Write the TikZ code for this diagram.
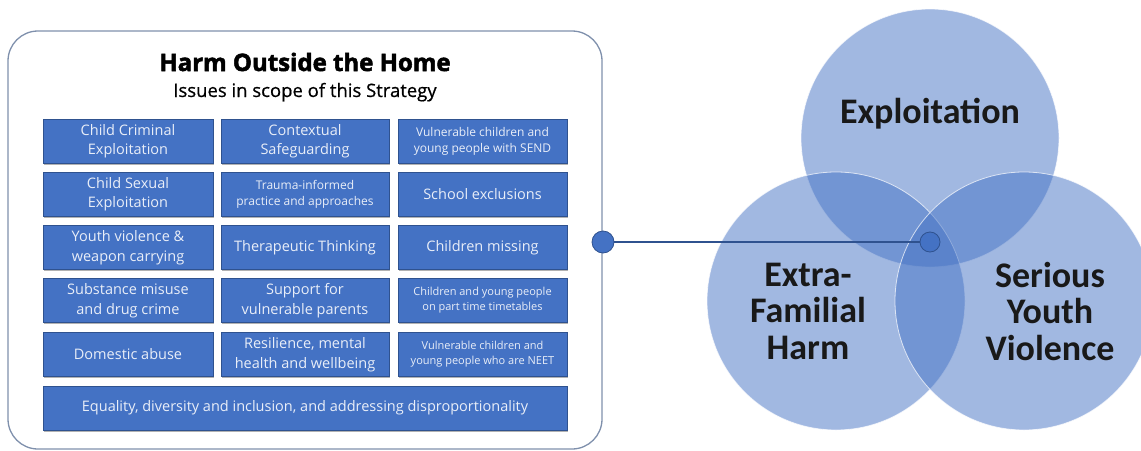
\documentclass[tikz,border=0pt]{standalone}
\usepackage{fontspec}
\setmainfont{Open Sans}
\newfontfamily\titlefont[BoldFeatures={FakeBold=2.2}]{Open Sans}
\newfontfamily\subfont[FakeBold=0.7]{Open Sans}
\newfontfamily\vennfont{Carlito}
\usetikzlibrary{shadows}
\definecolor{boxblue}{HTML}{4472C4}
\definecolor{boxedge}{HTML}{2F528F}
\definecolor{panelline}{HTML}{7F90AC}
\definecolor{boxtext}{HTML}{E9EEF8}
\definecolor{linkblue}{HTML}{2F528F}
\tikzset{
  issue/.style={draw=boxedge, line width=0.6pt, fill=boxblue, minimum height=44pt,
    inner sep=0pt, text=boxtext, align=center,
    font=\fontsize{14.5}{19.5}\selectfont,
    drop shadow={shadow xshift=1.2pt, shadow yshift=-1.8pt, opacity=0.3, fill=black}},
  wa/.style={issue, minimum width=170pt},
  wb/.style={issue, minimum width=168pt},
  wc/.style={issue, minimum width=169pt},
  smalltxt/.style={font=\fontsize{12}{16}\selectfont},
  tinytxt/.style={font=\fontsize{11}{15}\selectfont},
  venn/.style={circle, minimum size=258pt, inner sep=0pt, fill=boxblue, fill opacity=0.5,
    draw=white, draw opacity=0.7, line width=0.8pt},
  vennlabel/.style={font=\vennfont\bfseries\fontsize{36}{36.5}\selectfont, align=center, text=black!90},
  dot/.style={circle, minimum size=20pt, inner sep=0pt, fill=boxblue, draw=linkblue, line width=0.8pt},
}
\begin{document}
\begin{tikzpicture}[x=1pt, y=-1pt]
\useasboundingbox (0,0) rectangle (1141,450);
\clip (0,0) rectangle (1141,450);

% Venn diagram
\node[venn] (vtop) at (930,138) {};
\node[venn] (vleft) at (836,301) {};
\node[venn] (vright) at (1024,301) {};
\node[vennlabel, anchor=base] (lexp) at (930,123) {Exploitation};
\node[vennlabel] (lefh) at (808,311) {Extra-\\Familial\\Harm};
\node[vennlabel] (lsyv) at (1050,311) {Serious\\Youth\\Violence};

% panel
\draw[panelline, line width=1.3pt, rounded corners=30pt] (8,31) rectangle (602,449);
\node[anchor=base, font=\titlefont\bfseries\fontsize{24}{26}\selectfont] (title) at (305,71) {Harm Outside the Home};
\node[anchor=base, font=\subfont\fontsize{18.5}{20}\selectfont] (subtitle) at (305,97) {Issues in scope of this Strategy};

% row 1
\node[wa] (a1) at (128,141) {Child Criminal\\Exploitation};
\node[wb] (b1) at (305,141) {Contextual\\Safeguarding};
\node[wc, smalltxt] (c1) at (482.5,141) {Vulnerable children and\\young people with SEND};
% row 2
\node[wa] (a2) at (128,194) {Child Sexual\\Exploitation};
\node[wb, smalltxt] (b2) at (305,194) {Trauma-informed\\practice and approaches};
\node[wc] (c2) at (482.5,194) {School exclusions};
% row 3
\node[wa] (a3) at (128,247.5) {Youth violence \&\\weapon carrying};
\node[wb] (b3) at (305,247.5) {Therapeutic Thinking};
\node[wc] (c3) at (482.5,247.5) {Children missing};
% row 4
\node[wa] (a4) at (128,300.5) {Substance misuse\\and drug crime};
\node[wb] (b4) at (305,300.5) {Support for\\vulnerable parents};
\node[wc, tinytxt] (c4) at (482.5,300.5) {Children and young people\\on part time timetables};
% row 5
\node[wa] (a5) at (128,354.5) {Domestic abuse};
\node[wb] (b5) at (305,354.5) {Resilience, mental\\health and wellbeing};
\node[wc, tinytxt] (c5) at (482.5,354.5) {Vulnerable children and\\young people who are NEET};
% row 6
\node[issue, minimum width=524pt] (d6) at (305,408) {Equality, diversity and inclusion, and addressing disproportionality};

% connector
\node[dot, minimum size=22pt] (dl) at (603,242) {};
\node[dot] (dc) at (930,242) {};
\draw[linkblue, line width=1.3pt] (dl) -- (dc);
\end{tikzpicture}
\end{document}
